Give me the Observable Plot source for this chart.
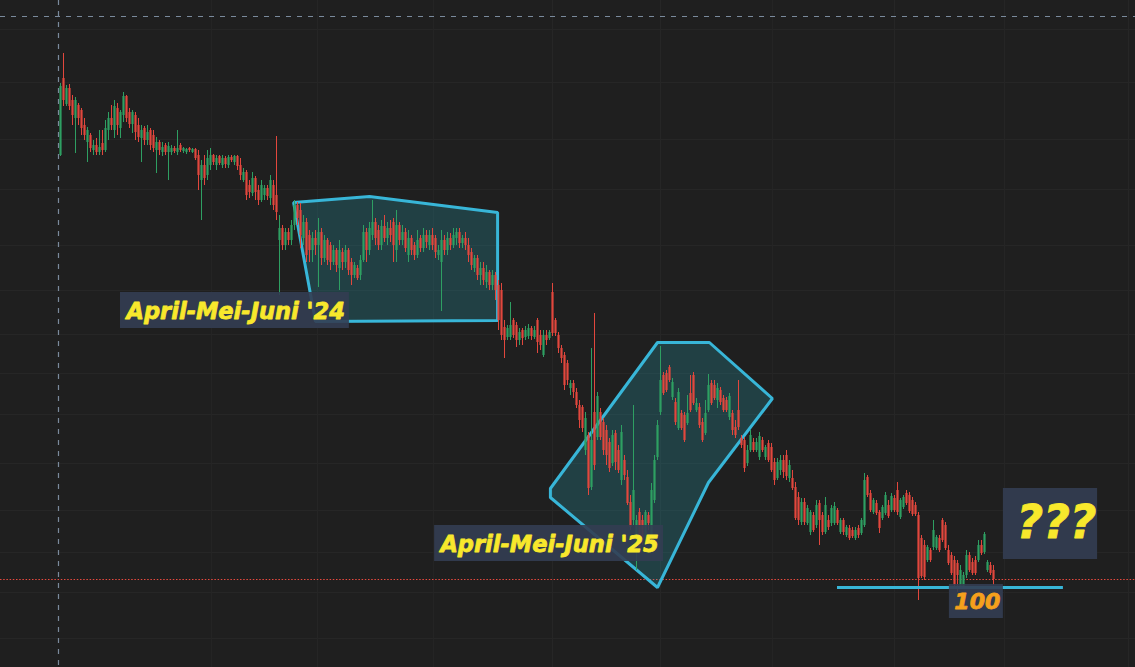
<!DOCTYPE html>
<html>
<head>
<meta charset="utf-8">
<script src="https://cdn.jsdelivr.net/npm/d3@7"></script>
<script src="https://cdn.jsdelivr.net/npm/@observablehq/plot@0.6"></script>
<style>
  html, body { margin: 0; padding: 0; background: #1f1f1f; overflow: hidden; }
  #chart svg { display: block; }
</style>
</head>
<body>
<div id="chart"></div>
<script>
// ---- Daily candles (price units), bar index = position in series ----
const open = [532,609,583,599,587,569,582,577,562,545, 552,537,542,535,544,537,557,569,557,579,
559,572,591,575,563,572,562,549,559,547, 557,552,537,545,535,542,535,535,539,535,
542,536,535,539,535,538,532,507,522,512, 522,532,522,531,522,529,522,530,525,531,
522,507,515,502,494,509,497,487,492,499, 489,502,492,447,459,442,455,447,462,482,
477,449,465,452,437,449,442,455,429,447, 442,425,437,419,435,425,437,425,412,419,
412,427,455,437,452,465,457,442,461,449, 459,465,437,462,447,455,432,449,442,432,
449,439,452,442,452,449,432,425,447,437, 449,442,449,455,444,449,442,435,419,429,
412,419,405,415,402,412,402,397,360,350, 350,367,362,347,357,350,351,359,350,367,
352,332,352,349,395,367,352,339,332,324, 299,304,295,282,280,237,252,200,275,250,
275,265,257,245,224,254,237,207,227,210, 185,167,147,175,167,149,172,150,187,230,
275,312,314,320,290,285,259,274,272,264, 294,312,277,280,265,254,277,304,302,287,
297,289,287,270,274,260,277,249,247,224, 237,245,237,230,247,230,244,240,225,209,
217,227,232,209,209,200,190,165,185,164, 155,172,162,184,172,155,167,164,164,177,
155,167,152,159,157,149,159,154,162,210, 194,175,184,175,169,174,182,177,189,197,
170,180,194,192,187,182,172,149,142,127, 137,140,139,149,167,162,137,132,127,124,
100,100,112,132,125,127,127,142,135,117, 122,117];
const high = [604,634,602,603,592,590,584,579,569,560, 554,547,549,557,557,567,575,582,587,584,
577,595,592,579,577,575,569,562,561,562, 559,557,550,547,545,544,545,542,541,557,
544,540,539,540,539,539,537,527,532,537, 539,533,532,532,532,531,532,532,532,532,
529,519,517,507,515,511,502,507,502,502, 512,507,551,472,462,459,459,467,487,485,
484,472,469,457,455,457,469,459,452,449, 445,442,439,447,439,442,439,429,425,422,
432,462,459,465,487,469,462,467,472,465, 467,469,477,465,462,459,457,452,445,457,
452,459,457,457,459,452,442,457,452,455, 454,459,459,459,452,455,449,439,432,432,
425,425,422,417,417,415,407,404,367,362, 385,369,365,359,359,361,363,361,361,369,
357,357,357,357,404,369,355,342,335,327, 307,307,299,287,282,275,255,339,374,295,
279,269,262,249,257,257,242,262,232,217, 192,282,172,179,172,177,175,204,232,267,
341,315,317,322,309,289,299,277,275,292, 312,315,289,284,269,287,313,307,307,304,
300,292,290,294,277,267,307,252,250,242, 257,249,249,255,250,242,247,244,229,229,
232,232,237,227,217,205,195,189,189,182, 177,175,187,187,175,190,172,182,185,179,
169,169,162,162,160,160,162,169,214,212, 197,189,187,177,182,195,187,194,192,205,
189,192,197,195,190,185,175,152,147,142, 139,167,152,152,169,165,142,135,131,127,
122,115,137,135,129,131,147,147,155,127, 125,122];
const low = [531,581,581,577,562,534,562,552,547,525, 535,532,532,532,532,535,547,557,549,552,
549,565,565,559,554,547,545,525,542,542, 537,535,514,532,531,532,507,532,534,532,
535,534,533,535,534,527,497,467,502,507, 517,522,517,522,519,519,519,525,522,517,
507,505,487,489,491,487,482,485,487,487, 482,477,467,392,437,437,442,442,457,462,
439,442,425,425,425,432,400,422,425,422, 417,422,415,397,417,419,412,402,409,407,
407,425,425,432,447,442,437,437,445,442, 445,425,425,442,442,435,425,432,427,429,
435,435,439,437,437,429,427,376,432,432, 437,439,442,439,439,437,425,417,415,407,
402,402,399,397,397,387,357,347,329,347, 347,349,340,342,342,347,348,347,348,334,
337,330,342,347,351,351,334,324,297,302, 292,289,279,259,255,232,192,197,217,247,
247,232,222,215,221,217,214,202,207,182, 157,162,117,137,142,145,157,147,184,227,
272,292,295,305,287,262,257,257,245,262, 275,282,275,259,245,252,275,282,287,279,
282,275,275,267,252,249,257,239,215,221, 235,235,235,227,235,227,225,215,202,207,
212,209,207,205,197,167,162,162,162,162, 152,155,159,142,152,153,157,161,162,162,
153,152,150,147,149,147,149,152,160,190, 175,173,172,154,167,172,169,175,175,172,
168,178,182,174,171,171,87,109,107,125, 125,137,137,135,145,137,122,112,99,95,
98,98,109,115,112,112,125,132,133,115, 112,102];
const close = [601,587,599,581,572,587,569,559,552,557, 539,542,535,540,537,559,569,562,581,562,
575,591,569,563,575,555,550,557,547,555, 542,539,545,537,540,535,541,539,536,539,
537,539,538,537,538,529,512,522,509,529, 532,525,529,524,529,523,530,527,531,521,
512,515,492,495,509,495,487,502,499,491, 507,482,475,459,442,455,447,462,482,469,
452,465,432,437,449,442,455,429,447,427, 425,437,422,437,425,437,417,412,422,409,
427,455,437,459,465,449,442,461,449,459, 452,442,462,447,455,439,449,437,432,447,
439,452,445,452,442,435,437,447,437,449, 442,452,455,444,449,442,432,422,429,412,
419,407,415,402,412,397,367,352,347,359, 362,352,347,355,349,357,359,351,357,345,
342,352,347,355,354,354,339,329,302,307, 304,295,282,267,259,269,199,247,222,291,
250,237,232,219,252,225,217,255,212,184, 160,197,167,139,147,175,164,197,227,262,
307,294,297,307,305,265,295,259,247,274, 277,284,284,262,247,274,302,284,289,299,
285,277,277,291,257,252,260,242,219,237, 252,237,245,251,237,240,227,217,207,225,
227,215,211,222,199,169,167,185,165,179, 175,157,182,167,155,182,160,179,181,164,
167,155,160,149,151,157,152,167,207,192, 177,187,174,159,180,192,171,191,177,175,
187,190,184,176,173,173,109,111,110,140, 127,157,150,137,147,139,124,114,102,112,
117,112,132,117,114,114,142,134,153,125, 114,108];

// ---- Reference levels / grid ----
const lastPrice = 108;
const supportLevel = 100;
const supportFrom = 259, supportTo = 334.3;
const gridPrices = [658, 605, 548, 498, 442, 397, 353, 314, 273, 224, 177, 135, 95, 49];
const gridBars = [50.3, 85.7, 124.3, 164, 200, 237.3, 278, 314.7, 356];
const crossBar = -0.67, crossPrice = 671;

// ---- Drawn zones (bar index, price) ----
const zone24 = [[77.7,485],[103,491],[145.7,475],[145.7,367],[85,366]];
const zone25 = [[199,345],[216.3,345],[237.3,289],[216,205],[199,100],[163.3,190],[163.3,199]];

// ---- Labels ----
const labels = [
  {text: "April-Mei-Juni '24", x: 58.4, y: 376, x1: 20, x2: 96.3, y1: 359, y2: 395, color: "#f8e82c", size: 22.5},
  {text: "April-Mei-Juni '25", x: 163, y: 143, x1: 124.7, x2: 201, y1: 126, y2: 162, color: "#f8e82c", size: 22.5},
  {text: "???", x: 332, y: 164, x1: 314.3, x2: 345.7, y1: 128, y2: 199, color: "#f8e82c", size: 46},
  {text: "100", x: 305.6, y: 86, x1: 296.3, x2: 314.3, y1: 69, y2: 103, color: "#f5a01c", size: 22}
];

const candles = open.map((o, i) => ({i, open: o, high: high[i], low: low[i], close: close[i]}));
const up = "#2e9f62", down = "#e2473d", cyan = "#38b6d8";
const col = d => d.close >= d.open ? up : down;

const chart = Plot.plot({
  width: 1135, height: 667,
  marginTop: 0, marginRight: 0, marginBottom: 0, marginLeft: 0,
  style: {background: "#1f1f1f"},
  x: {type: "linear", domain: [-20, 1135 / 3 - 20], axis: null},
  y: {type: "linear", domain: [20, 687], axis: null},
  marks: [
    Plot.ruleY(gridPrices, {stroke: "#262626", strokeWidth: 1}),
    Plot.ruleX(gridBars, {stroke: "#262626", strokeWidth: 1}),
    Plot.ruleX([crossBar], {stroke: "#7a8a9c", strokeWidth: 1.2, strokeDasharray: "5,6"}),
    Plot.ruleY([crossPrice], {stroke: "#7a8a9c", strokeWidth: 1.2, strokeDasharray: "5,6"}),
    Plot.ruleY([lastPrice], {stroke: "#e84a3f", strokeWidth: 1.2, strokeDasharray: "1.5,1.7"}),
    Plot.line(zone24, {x: d => d[0], y: d => d[1], curve: "linear-closed", fill: "#2bb4c8", fillOpacity: 0.22, stroke: cyan, strokeWidth: 3, strokeLinejoin: "miter"}),
    Plot.line(zone25, {x: d => d[0], y: d => d[1], curve: "linear-closed", fill: "#2bb4c8", fillOpacity: 0.22, stroke: cyan, strokeWidth: 3, strokeLinejoin: "miter"}),
    Plot.ruleX(candles, {x: "i", y1: "low", y2: "high", stroke: col, strokeWidth: 1}),
    Plot.ruleX(candles, {x: "i", y1: "open", y2: d => Math.abs(d.close - d.open) < 1 ? d.open - 1 : d.close, stroke: col, strokeWidth: 2.2}),
    Plot.ruleY([supportLevel], {x1: supportFrom, x2: supportTo, stroke: cyan, strokeWidth: 3}),
    Plot.rect(labels, {x1: "x1", x2: "x2", y1: "y1", y2: "y2", fill: "#333d52", fillOpacity: 0.9}),
    Plot.text(labels, {x: "x", y: "y", text: "text", fontSize: d => d.size, fill: d => d.color, stroke: d => d.color, strokeWidth: 0.8, fontFamily: "DejaVu Sans", fontWeight: "bold", fontStyle: "italic"})
  ]
});
document.getElementById("chart").appendChild(chart);
</script>
</body>
</html>
